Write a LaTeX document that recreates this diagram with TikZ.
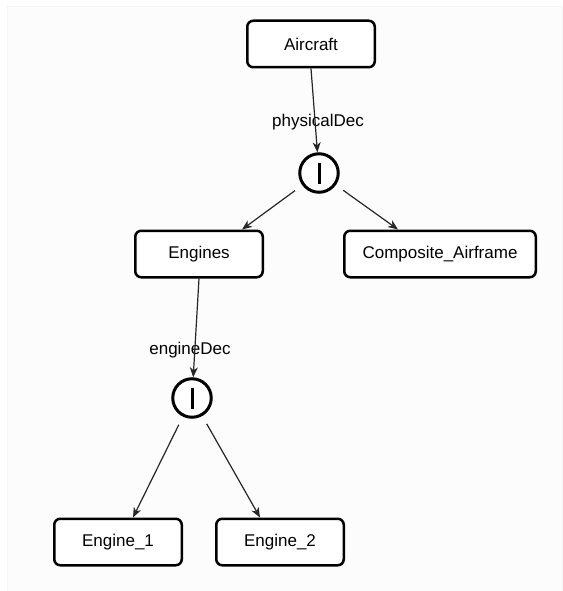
\documentclass[tikz,border=0pt]{standalone}
\usepackage{fontspec}
\setmainfont{Liberation Sans}
\usetikzlibrary{arrows.meta,calc}
\tikzset{
  box/.style={draw=black, line width=2.5pt, rounded corners=6pt, fill=white,
    minimum width=127.5pt, minimum height=46.5pt, inner sep=0pt,
    font=\fontsize{17}{20}\selectfont},
  wide/.style={box, minimum width=191.5pt},
  dec/.style={draw=black, line width=3pt, circle, fill=white, minimum size=38.5pt, inner sep=0pt},
  lbl/.style={font=\fontsize{17}{20}\selectfont, inner sep=0pt},
  arr/.style={draw=black!85, line width=1.2pt, -{Stealth[length=10pt,width=8pt,inset=3pt]}},
  bar/.style={line width=3pt}
}
\begin{document}
\begin{tikzpicture}[x=1pt,y=-1pt]
\useasboundingbox (0,0) rectangle (562,591);
\draw[draw=black!4, fill=black!1] (7,6) rectangle (562,591);

\node[box] (air) at (311,44) {Aircraft};
\node[dec] (d1) at (319,173) {};
\draw[bar] ($(d1)+(0,-10.5)$) -- ($(d1)+(0,10.5)$);
\node[lbl] (l1) at (318,122) {physicalDec};

\node[box] (eng) at (199,254) {Engines};
\node[wide] (comp) at (440,254) {Composite\_Airframe};

\node[dec] (d2) at (192,398) {};
\draw[bar] ($(d2)+(0,-10.5)$) -- ($(d2)+(0,10.5)$);
\node[lbl] (l2) at (190,350) {engineDec};

\node[box] (e1) at (118,542) {Engine\_1};
\node[box] (e2) at (280,542) {Engine\_2};

\draw[arr] (air.south) -- (d1);
\draw[arr, shorten <=9pt] (d1) -- ($(eng.north)+(43,0)$);
\draw[arr, shorten <=9pt] (d1) -- ($(comp.north)+(-42,0)$);
\draw[arr] (eng.south) -- (d2);
\draw[arr, shorten <=9pt] (d2) -- ($(e1.north)+(15,0)$);
\draw[arr, shorten <=9pt] (d2) -- ($(e2.north)+(-20,0)$);
\end{tikzpicture}
\end{document}
